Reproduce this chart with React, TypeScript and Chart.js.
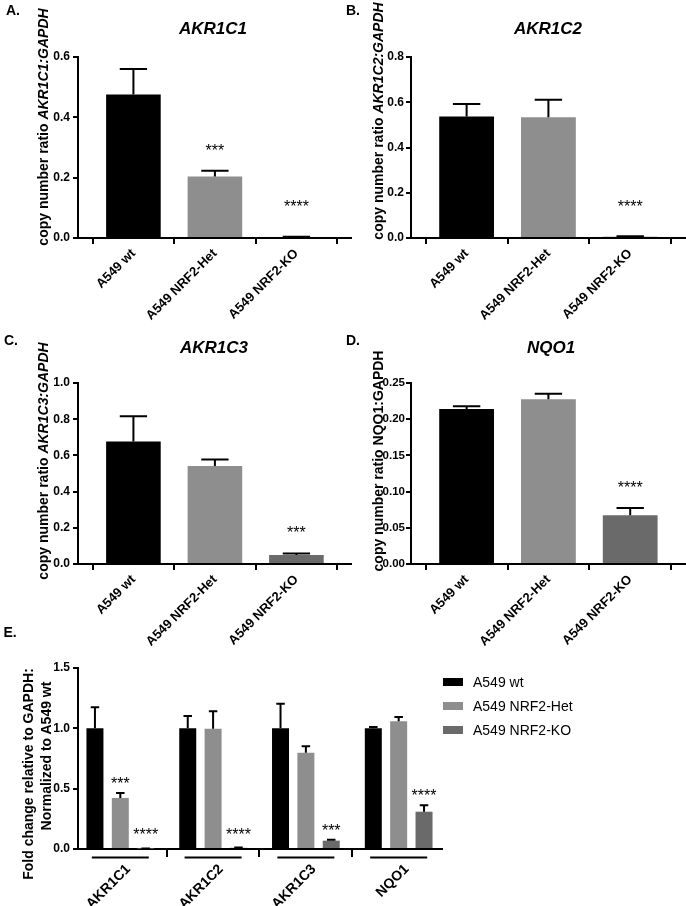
import React, { useEffect, useRef } from 'react';
import { Chart, registerables } from 'chart.js';
Chart.register(...registerables);

const FONT = '"Liberation Sans", Arial, Helvetica, sans-serif';

// ---------- data ----------
const CATEGORIES = ['A549 wt', 'A549 NRF2-Het', 'A549 NRF2-KO'];
const SERIES_COLORS = ['#000000', '#8e8e8e', '#6a6a6a'];

const AKR1C1_MEAN = [0.476, 0.204, 0.003];
const AKR1C1_ERR = [0.084, 0.019, 0.001];
const AKR1C1_STARS = ['', '***', '****'];
const AKR1C1_TICKS = [0, 0.2, 0.4, 0.6];

const AKR1C2_MEAN = [0.537, 0.534, 0.005];
const AKR1C2_ERR = [0.055, 0.077, 0.003];
const AKR1C2_STARS = ['', '', '****'];
const AKR1C2_TICKS = [0, 0.2, 0.4, 0.6, 0.8];

const AKR1C3_MEAN = [0.677, 0.541, 0.05];
const AKR1C3_ERR = [0.139, 0.037, 0.008];
const AKR1C3_STARS = ['', '', '***'];
const AKR1C3_TICKS = [0, 0.2, 0.4, 0.6, 0.8, 1.0];

const NQO1_MEAN = [0.2141, 0.2275, 0.0674];
const NQO1_ERR = [0.0037, 0.0078, 0.0101];
const NQO1_STARS = ['', '', '****'];
const NQO1_TICKS = [0, 0.05, 0.1, 0.15, 0.2, 0.25];

const GENES = ['AKR1C1', 'AKR1C2', 'AKR1C3', 'NQO1'];
const E_WT = [1.0, 1.0, 1.0, 1.0];
const E_WT_ERR = [0.174, 0.102, 0.204, 0.011];
const E_WT_STARS = ['', '', '', ''];
const E_HET = [0.423, 0.997, 0.798, 1.058];
const E_HET_ERR = [0.041, 0.144, 0.053, 0.036];
const E_HET_STARS = ['***', '', '', ''];
const E_KO = [0.003, 0.01, 0.069, 0.309];
const E_KO_ERR = [0.002, 0.003, 0.008, 0.053];
const E_KO_STARS = ['****', '****', '***', '****'];
const E_TICKS = [0, 0.5, 1.0, 1.5];

// ---------- plugin: error bars, stars, group underlines ----------
const errPlugin = {
  id: 'errs',
  afterDatasetsDraw(chart: any) {
    const ctx = chart.ctx;
    const ys = chart.scales.y;
    const o = chart.options.plugins.errs;
    const zero = ys.getPixelForValue(0);
    chart.data.datasets.forEach((ds: any, di: number) => {
      const meta = chart.getDatasetMeta(di);
      meta.data.forEach((bar: any, i: number) => {
        const p = bar.getProps(['x', 'y', 'width'], true);
        const v = ds.data[i].y;
        const top = ys.getPixelForValue(v + ds.errors[i]);
        ctx.save();
        ctx.strokeStyle = '#000';
        ctx.lineWidth = 2;
        ctx.beginPath();
        ctx.moveTo(p.x, p.y);
        ctx.lineTo(p.x, top);
        ctx.moveTo(p.x - (p.width * o.cap) / 2, top);
        ctx.lineTo(p.x + (p.width * o.cap) / 2, top);
        ctx.stroke();
        const s = ds.stars[i];
        if (s) {
          const cy = Math.min(top - o.starGap, zero - o.starMin);
          ctx.fillStyle = '#000';
          ctx.font = `16px ${FONT}`;
          ctx.textAlign = 'center';
          ctx.textBaseline = 'alphabetic';
          ctx.fillText(s, p.x, cy + 9);
        }
        ctx.restore();
      });
    });
  },
  afterDraw(chart: any) {
    const o = chart.options.plugins.errs;
    if (!o.underline) return;
    const ctx = chart.ctx;
    const xs = chart.scales.x;
    const y = chart.chartArea.bottom + o.tickLen + 0.5;
    ctx.save();
    ctx.strokeStyle = '#000';
    ctx.lineWidth = 2;
    xs.ticks.forEach((t: any) => {
      const x = xs.getPixelForValue(t.value);
      ctx.beginPath();
      ctx.moveTo(x - o.underline, y);
      ctx.lineTo(x + o.underline, y);
      ctx.stroke();
    });
    ctx.restore();
  },
};

type Series = { values: number[]; err: number[]; stars: string[]; color: any };
type Spec = {
  left: number; top: number; width: number; height: number;
  yWidth: number; padTop: number; padRight: number; xHeight: number;
  labels: string[]; series: Series[]; yTicks: number[]; decimals: number;
  xMin: number; xMax: number; barPct: number; catPct: number;
  tickLen: number; starGap: number; starMin: number; underline: number; labelPad: number;
  xFont: number; yFont: number; labelOffset: number; yPad: number;
};

function ChartCanvas({ spec }: { spec: Spec }) {
  const ref = useRef<HTMLCanvasElement | null>(null);
  useEffect(() => {
    if (!ref.current) return;
    const chart = new Chart(ref.current, {
      type: 'bar',
      data: {
        datasets: spec.series.map((s) => ({
          data: s.values.map((v, i) => ({ x: i, y: v })),
          backgroundColor: s.color,
          borderWidth: 0,
          barPercentage: spec.barPct,
          categoryPercentage: spec.catPct,
          errors: s.err,
          stars: s.stars,
        })) as any,
      },
      options: {
        animation: false,
        responsive: false,
        maintainAspectRatio: false,
        layout: { padding: { left: 0, top: spec.padTop, right: spec.padRight, bottom: 0 } },
        plugins: {
          legend: { display: false },
          tooltip: { enabled: false },
          errs: { cap: 0.5, starGap: spec.starGap, starMin: spec.starMin, underline: spec.underline, tickLen: spec.tickLen },
        } as any,
        scales: {
          x: {
            type: 'linear',
            min: spec.xMin,
            max: spec.xMax,
            offset: false,
            afterBuildTicks: (s: any) => { s.ticks = spec.labels.map((_, i) => ({ value: i })); },
            afterFit: (s: any) => { s.height = spec.xHeight; s.paddingLeft = 0; s.paddingRight = 0; },
            grid: { drawOnChartArea: false, drawTicks: true, tickLength: spec.tickLen, color: '#000', lineWidth: 2 },
            border: { display: true, color: '#000', width: 2 },
            ticks: {
              autoSkip: false, maxRotation: 45, minRotation: 45, padding: spec.labelPad,
              labelOffset: spec.labelOffset,
              color: '#000', font: { family: FONT, size: spec.xFont, weight: 'bold' },
              callback: (_v: any, i: number) => spec.labels[i],
            },
          },
          y: {
            type: 'linear',
            min: 0,
            max: spec.yTicks[spec.yTicks.length - 1],
            afterBuildTicks: (s: any) => { s.ticks = spec.yTicks.map((v) => ({ value: v })); },
            afterFit: (s: any) => { s.width = spec.yWidth; s.paddingTop = 0; s.paddingBottom = 0; },
            grid: { drawOnChartArea: false, drawTicks: true, tickLength: 5, color: '#000', lineWidth: 2 },
            border: { display: true, color: '#000', width: 2 },
            ticks: {
              padding: spec.yPad, color: '#000', font: { family: FONT, size: spec.yFont, weight: 'bold' },
              callback: (v: any) => Number(v).toFixed(spec.decimals),
            },
          },
        } as any,
      },
      plugins: [errPlugin as any],
    });
    return () => chart.destroy();
  }, [spec]);
  return (
    <canvas
      ref={ref}
      width={spec.width}
      height={spec.height}
      style={{ position: 'absolute', left: spec.left, top: spec.top, width: spec.width, height: spec.height }}
    />
  );
}

function Txt(props: { x: number; y: number; size: number; weight?: string; italic?: boolean; rotate?: number; align?: 'center' | 'left'; children: React.ReactNode }) {
  const { x, y, size, weight = 'bold', italic = false, rotate = 0, align = 'center', children } = props;
  return (
    <div
      style={{
        position: 'absolute', left: x, top: y, fontFamily: FONT, fontSize: size, fontWeight: weight as any,
        fontStyle: italic ? 'italic' : 'normal', lineHeight: `${size}px`, whiteSpace: 'nowrap', color: '#000',
        transform: `translate(${align === 'center' ? '-50%' : '0'}, -50%) rotate(${rotate}deg)`,
      }}
    >
      {children}
    </div>
  );
}

const mk = (values: number[], err: number[], stars: string[], color: any): Series => ({ values, err, stars, color });

const SPEC_A: Spec = {
  left: 0, top: 0, width: 360, height: 330, yWidth: 78, padTop: 57, padRight: 9, xHeight: 92,
  labels: CATEGORIES, series: [mk(AKR1C1_MEAN, AKR1C1_ERR, AKR1C1_STARS, SERIES_COLORS)],
  yTicks: AKR1C1_TICKS, decimals: 1, xMin: -0.68, xMax: 2.67, barPct: 0.67, catPct: 1,
  tickLen: 6, starGap: 23.5, starMin: 35, underline: 0, labelPad: 2,
  xFont: 13, yFont: 12, labelOffset: 0, yPad: 3,
};
const SPEC_B: Spec = { ...SPEC_A, left: 333, width: 353, padRight: 1,
  series: [mk(AKR1C2_MEAN, AKR1C2_ERR, AKR1C2_STARS, SERIES_COLORS)], yTicks: AKR1C2_TICKS, yPad: 2 };
const SPEC_C: Spec = { ...SPEC_A, top: 330, height: 335, padTop: 53, xHeight: 101,
  series: [mk(AKR1C3_MEAN, AKR1C3_ERR, AKR1C3_STARS, SERIES_COLORS)], yTicks: AKR1C3_TICKS };
const SPEC_D: Spec = { ...SPEC_C, left: 333, width: 353, padRight: 1, yFont: 11.5, yPad: 1,
  series: [mk(NQO1_MEAN, NQO1_ERR, NQO1_STARS, SERIES_COLORS)], yTicks: NQO1_TICKS, decimals: 2 };
const SPEC_E: Spec = {
  left: 0, top: 630, width: 452, height: 276, yWidth: 78, padTop: 38, padRight: 10, xHeight: 57,
  labels: GENES,
  series: [
    mk(E_WT, E_WT_ERR, E_WT_STARS, SERIES_COLORS[0]),
    mk(E_HET, E_HET_ERR, E_HET_STARS, SERIES_COLORS[1]),
    mk(E_KO, E_KO_ERR, E_KO_STARS, SERIES_COLORS[2]),
  ],
  yTicks: E_TICKS, decimals: 1, xMin: -0.456, xMax: 3.467, barPct: 0.67, catPct: 0.82,
  tickLen: 8, starGap: 13, starMin: 18, underline: 28.5, labelPad: 4,
  xFont: 14, yFont: 12, labelOffset: 8, yPad: 3,
};

const LEGEND = ['A549 wt', 'A549 NRF2-Het', 'A549 NRF2-KO'];

export default function App() {
  useEffect(() => {
    document.body.style.margin = '0';
  }, []);
  return (
    <div style={{ position: 'relative', width: 686, height: 906, background: '#fff', overflow: 'hidden' }}>
      <ChartCanvas spec={SPEC_A} />
      <ChartCanvas spec={SPEC_B} />
      <ChartCanvas spec={SPEC_C} />
      <ChartCanvas spec={SPEC_D} />
      <ChartCanvas spec={SPEC_E} />

      <Txt x={13} y={10} size={14}>A.</Txt>
      <Txt x={353} y={10} size={14}>B.</Txt>
      <Txt x={11} y={340} size={14}>C.</Txt>
      <Txt x={353} y={340} size={14}>D.</Txt>
      <Txt x={10} y={632} size={14}>E.</Txt>

      <Txt x={213} y={28} size={17} italic>AKR1C1</Txt>
      <Txt x={548} y={28} size={17} italic>AKR1C2</Txt>
      <Txt x={214} y={347} size={17} italic>AKR1C3</Txt>
      <Txt x={551} y={347} size={17} italic>NQO1</Txt>

      <Txt x={43} y={127} size={14} rotate={-90}>copy number ratio <i>AKR1C1:GAPDH</i></Txt>
      <Txt x={378} y={121} size={14} rotate={-90}>copy number ratio <i>AKR1C2:GAPDH</i></Txt>
      <Txt x={43} y={461} size={14} rotate={-90}>copy number ratio <i>AKR1C3:GAPDH</i></Txt>
      <Txt x={378} y={461} size={14} rotate={-90}>copy number ratio NQO1:GAPDH</Txt>

      <Txt x={28} y={774} size={14} rotate={-90}>Fold change relative to GAPDH:</Txt>
      <Txt x={46} y={756} size={14} rotate={-90}>Normalized to A549 wt</Txt>

      {LEGEND.map((name, i) => (
        <React.Fragment key={name}>
          <div style={{ position: 'absolute', left: 443, top: 677.5 + i * 24.2, width: 20, height: 8, background: SERIES_COLORS[i] }} />
          <Txt x={473} y={682 + i * 24.2} size={14} weight="normal" align="left">{name}</Txt>
        </React.Fragment>
      ))}
    </div>
  );
}
